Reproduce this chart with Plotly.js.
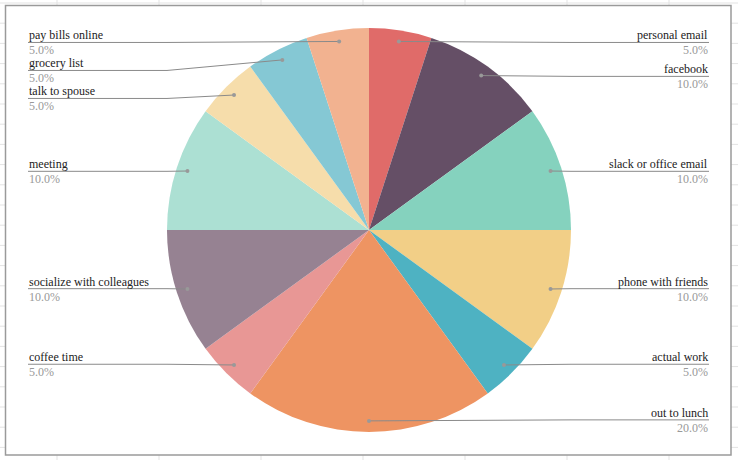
<!DOCTYPE html>
<html>
<head>
<meta charset="utf-8">
<script src="https://cdn.plot.ly/plotly-3.0.1.min.js"></script>
<style>html,body{margin:0;padding:0;background:#fff;}#chart{width:738px;height:460px;}</style>
</head>
<body>
<div id="chart"></div>
<script>
// ---- data ----
const categories = ["personal email", "facebook", "slack or office email", "phone with friends",
  "actual work", "out to lunch", "coffee time", "socialize with colleagues", "meeting",
  "talk to spouse", "grocery list", "pay bills online"];
const values = [5, 10, 10, 10, 5, 20, 5, 10, 10, 5, 5, 5];
const sliceColors = ["#E06B69", "#654F66", "#85D2BE", "#F2CF87", "#4EB2C2", "#EE9462",
  "#E89795", "#968292", "#ACE0D3", "#F6DDAB", "#85C8D4", "#F2B290"];

// ---- geometry (layout only) ----
const W = 738, H = 460;
const CX = 369, CY = 230, R = 202;
const px = x => x / W;
const py = y => 1 - y / H;

const shapes = [];
const annotations = [];

// spreadsheet-like background grid
for (let x = 57; x < W; x += 102) {
  shapes.push({type: 'line', layer: 'below', xref: 'paper', yref: 'paper',
    x0: px(x), x1: px(x), y0: 0, y1: 1, line: {color: '#e3e3e3', width: 1}});
}
for (let y = 3; y < H; y += 20.2) {
  shapes.push({type: 'line', layer: 'below', xref: 'paper', yref: 'paper',
    x0: 0, x1: 1, y0: py(y), y1: py(y), line: {color: '#e3e3e3', width: 1}});
}
// chart box
shapes.push({type: 'rect', layer: 'below', xref: 'paper', yref: 'paper',
  x0: px(5.5), x1: px(731), y0: py(5.5), y1: py(455),
  fillcolor: '#ffffff', line: {color: '#9a9a9a', width: 1.5}});

// leader lines + labels computed from the data
const total = values.reduce((a, b) => a + b, 0);
let cum = 0;
const items = values.map((v, i) => {
  const mid = (cum + v / 2) / total;
  cum += v;
  const th = 2 * Math.PI * mid;
  const s = Math.sin(th), c = Math.cos(th);
  return {
    i, side: s >= -1e-9 ? 'right' : 'left',
    dx: CX + 0.945 * R * s, dy: CY - 0.945 * R * c,
    ly: CY - 0.94 * R * c,
    pct: (v / total * 100).toFixed(1) + '%'
  };
});
['left', 'right'].forEach(side => {
  const grp = items.filter(d => d.side === side).sort((a, b) => a.ly - b.ly);
  for (let k = 1; k < grp.length; k++) {
    if (grp[k].ly < grp[k - 1].ly + 28) grp[k].ly = grp[k - 1].ly + 28;
  }
});

const LEFT_X = 28, RIGHT_X = 709;
items.forEach(d => {
  const isR = d.side === 'right';
  const tx = isR ? RIGHT_X : LEFT_X;
  const ex = isR ? CX + R : CX - R;
  shapes.push({type: 'path', xref: 'paper', yref: 'paper',
    path: `M ${px(tx)} ${py(d.ly)} L ${px(ex)} ${py(d.ly)} L ${px(d.dx)} ${py(d.dy)}`,
    line: {color: '#8a8a8a', width: 1}});
  const r = 2;
  shapes.push({type: 'circle', xref: 'paper', yref: 'paper',
    x0: px(d.dx - r), x1: px(d.dx + r), y0: py(d.dy + r), y1: py(d.dy - r),
    fillcolor: '#999999', line: {width: 0}});
  annotations.push({xref: 'paper', yref: 'paper', x: px(tx), y: py(d.ly),
    xanchor: isR ? 'right' : 'left', yanchor: 'bottom', showarrow: false,
    text: categories[d.i], borderpad: 0, yshift: -1,
    font: {family: 'Liberation Serif, Times New Roman, serif', size: 12, color: '#222222'}});
  annotations.push({xref: 'paper', yref: 'paper', x: px(tx), y: py(d.ly),
    xanchor: isR ? 'right' : 'left', yanchor: 'top', showarrow: false,
    text: d.pct, borderpad: 0, yshift: 0,
    font: {family: 'Liberation Serif, Times New Roman, serif', size: 12, color: '#999999'}});
});

const trace = {
  type: 'pie',
  labels: categories,
  values: values,
  sort: false,
  direction: 'clockwise',
  rotation: 0,
  textinfo: 'none',
  hoverinfo: 'label+percent',
  showlegend: false,
  marker: {colors: sliceColors, line: {width: 0}},
  domain: {x: [px(CX - R), px(CX + R)], y: [py(CY + R), py(CY - R)]}
};

const layout = {
  width: W, height: H,
  margin: {l: 0, r: 0, t: 0, b: 0},
  paper_bgcolor: '#ffffff',
  showlegend: false,
  shapes: shapes,
  annotations: annotations
};

Plotly.newPlot('chart', [trace], layout, {displayModeBar: false, staticPlot: true});
</script>
</body>
</html>
